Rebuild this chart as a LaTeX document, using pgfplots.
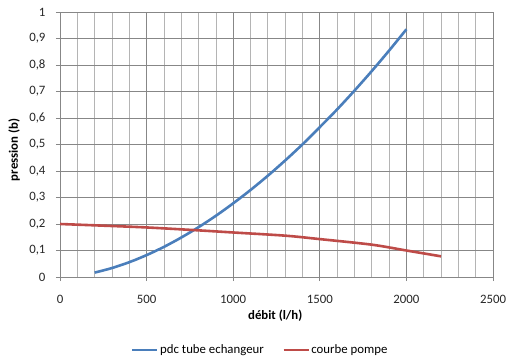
\documentclass[border=0pt]{standalone}
\usepackage{pgfplots}
\pgfplotsset{compat=1.18}
\usepackage{fontspec}
\setmainfont{Carlito}
\definecolor{bleu}{HTML}{4A7EBB}
\definecolor{rouge}{HTML}{BE4B48}
\definecolor{majg}{HTML}{878787}
\definecolor{ming}{HTML}{B4B4B4}
\begin{document}
\begin{tikzpicture}[x=1pt,y=1pt]
\useasboundingbox (0,0) rectangle (516,361);
\begin{axis}[
  at={(60pt,84pt)}, anchor=south west,
  scale only axis, width=433pt, height=265pt,
  xmin=0, xmax=2500, ymin=0, ymax=1,
  xtick={0,500,...,2500}, minor xtick={100,200,...,2400},
  ytick={0,0.1,...,1.0},
  grid=both,
  major grid style={majg, line width=0.7pt},
  minor grid style={ming, line width=0.7pt},
  axis line style={majg, line width=0.7pt},
  tick style={majg, line width=0.7pt},
  tick align=outside, major tick length=4pt, minor tick length=0pt,
  xtick pos=bottom, ytick pos=left,
  /pgf/number format/assume math mode=true,
  /pgf/number format/1000 sep={},
  yticklabel style={/pgf/number format/use comma, /pgf/number format/fixed, /pgf/number format/precision=1},
  ticklabel style={font=\fontsize{12.8}{14}\selectfont, text=black!85},
  xticklabel style={anchor=center, yshift=-18pt},
  yticklabel style={anchor=east, xshift=-7pt},
  xlabel={\textbf{débit (l/h)}},
  ylabel={\textbf{pression (b)}},
  label style={font=\fontsize{12.8}{14}\selectfont},
  xlabel style={at={(axis description cs:0.497,-0.147)}, anchor=center},
  ylabel style={at={(axis description cs:-0.106,0.48)}, anchor=center},
  legend columns=2,
  legend style={at={(axis description cs:0.462,-0.275)}, anchor=center, draw=none, fill=none,
    font=\fontsize{12.8}{14}\selectfont, inner sep=0pt,
    nodes={inner xsep=1.5pt},
    /tikz/every even column/.append style={column sep=17pt}},
  legend image code/.code={\draw[#1, line width=2.6pt] (0pt,0pt) -- (25pt,0pt);},
]
\addplot[bleu, line width=2.6pt, smooth] coordinates {
(200,0.0166) (300,0.0338) (400,0.0559) (500,0.0826) (600,0.1136) (700,0.1489)
(800,0.1880) (900,0.2310) (1000,0.2780) (1100,0.3283) (1200,0.3822) (1300,0.4397)
(1400,0.5005) (1500,0.5656) (1600,0.6324) (1700,0.7032) (1800,0.7771) (1900,0.8543) (2000,0.9347)};
\addlegendentry{pdc tube echangeur}
\addplot[rouge, line width=2.6pt, smooth] coordinates {
(0,0.200) (200,0.195) (500,0.187) (800,0.176) (1000,0.168) (1300,0.156)
(1500,0.143) (1800,0.122) (2000,0.100) (2200,0.078)};
\addlegendentry{courbe pompe}
\end{axis}
\end{tikzpicture}
\end{document}
